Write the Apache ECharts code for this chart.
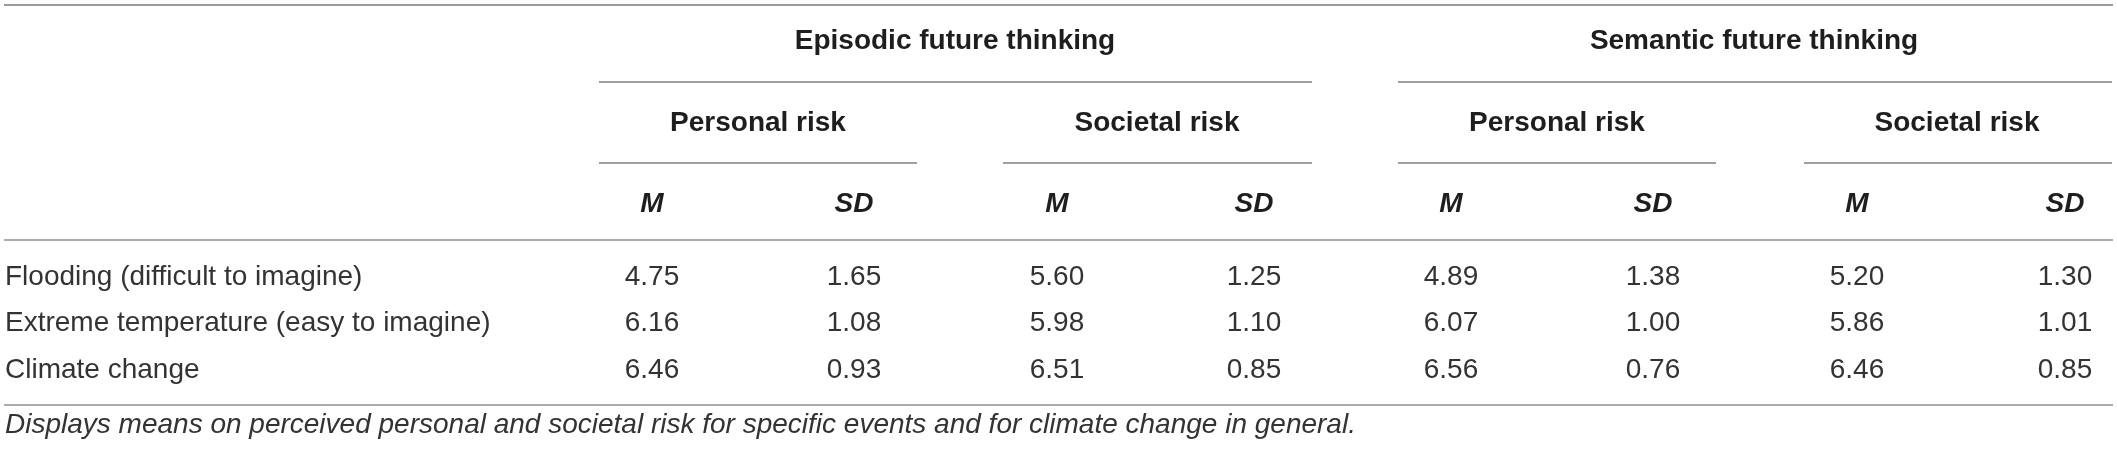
<!DOCTYPE html>
<html>
<head>
    <meta charset="utf-8">
    <title>Perceived risk table</title>
    <script src="https://cdn.jsdelivr.net/npm/echarts@6/dist/echarts.min.js"></script>
    <style>
        html, body { margin: 0; padding: 0; background: #fff; }
    </style>
</head>
<body>
    <div id="main" style="width: 2117px;height:454px;"></div>
    <script type="text/javascript">
        // table content
        var groups = ['Episodic future thinking', 'Semantic future thinking'];
        var risks = ['Personal risk', 'Societal risk', 'Personal risk', 'Societal risk'];
        var stats = ['M', 'SD', 'M', 'SD', 'M', 'SD', 'M', 'SD'];
        var rowLabels = ['Flooding (difficult to imagine)', 'Extreme temperature (easy to imagine)', 'Climate change'];

        var episodicPersonalM = [4.75, 6.16, 6.46];
        var episodicPersonalSD = [1.65, 1.08, 0.93];
        var episodicSocietalM = [5.60, 5.98, 6.51];
        var episodicSocietalSD = [1.25, 1.10, 0.85];
        var semanticPersonalM = [4.89, 6.07, 6.56];
        var semanticPersonalSD = [1.38, 1.00, 0.76];
        var semanticSocietalM = [5.20, 5.86, 6.46];
        var semanticSocietalSD = [1.30, 1.01, 0.85];

        var note = 'Displays means on perceived personal and societal risk for specific events and for climate change in general.';

        // layout (axis units = pixels of the picture)
        var W = 2117, H = 454;
        var colX = [652, 854, 1057, 1254, 1451, 1653, 1857, 2065];
        var groupX = [955, 1754];
        var riskX = [758, 1157, 1557, 1957];
        var rowY = [277, 323, 370];
        var groupY = 41, riskY = 123, statY = 204, noteY = 425, labelX = 5;

        // rules: [x1, x2, y, kind]
        var rules = [
            [4, 2113, 5, 0],
            [599, 1312, 82, 1], [1398, 2112, 82, 1],
            [599, 917, 163, 1], [1003, 1312, 163, 1], [1398, 1716, 163, 1], [1804, 2112, 163, 1],
            [4, 2113, 240, 2],
            [4, 2113, 405, 2]
        ];
        var ruleStyle = [
            { stroke: '#9a9a9a', lineWidth: 2 },
            { stroke: '#7f7f7f', lineWidth: 1.5 },
            { stroke: '#ababab', lineWidth: 2 }
        ];

        var FONT = '"Liberation Sans", Arial, Helvetica, sans-serif';
        var columns = [episodicPersonalM, episodicPersonalSD, episodicSocietalM, episodicSocietalSD,
                       semanticPersonalM, semanticPersonalSD, semanticSocietalM, semanticSocietalSD];

        var cells = [];
        groups.forEach(function (g, i) {
            cells.push({ x: groupX[i], y: groupY, text: g, weight: 'bold', style: 'normal', align: 'center', color: '#1e1e1e' });
        });
        risks.forEach(function (r, i) {
            cells.push({ x: riskX[i], y: riskY, text: r, weight: 'bold', style: 'normal', align: 'center', color: '#1e1e1e' });
        });
        stats.forEach(function (s, i) {
            cells.push({ x: colX[i], y: statY, text: s, weight: 'bold', style: 'italic', align: 'center', color: '#1e1e1e' });
        });
        rowLabels.forEach(function (l, r) {
            cells.push({ x: labelX, y: rowY[r], text: l, weight: 'normal', style: 'normal', align: 'left', color: '#333' });
        });
        columns.forEach(function (col, c) {
            col.forEach(function (v, r) {
                cells.push({ x: colX[c], y: rowY[r], text: v.toFixed(2), weight: 'normal', style: 'normal', align: 'center', color: '#333' });
            });
        });
        cells.push({ x: labelX, y: noteY, text: note, weight: 'normal', style: 'italic', align: 'left', color: '#333' });

        var myChart = echarts.init(document.getElementById('main'));

        var option = {
            animation: false,
            backgroundColor: '#fff',
            grid: { left: 0, right: 0, top: 0, bottom: 0 },
            xAxis: { type: 'value', min: 0, max: W, show: false },
            yAxis: { type: 'value', min: 0, max: H, inverse: true, show: false },
            series: [
                {
                    type: 'custom',
                    clip: false,
                    data: rules,
                    renderItem: function (params, api) {
                        var p1 = api.coord([api.value(0), api.value(2)]);
                        var p2 = api.coord([api.value(1), api.value(2)]);
                        var st = ruleStyle[api.value(3)];
                        return {
                            type: 'line',
                            shape: { x1: p1[0], y1: p1[1], x2: p2[0], y2: p2[1] },
                            style: { stroke: st.stroke, lineWidth: st.lineWidth }
                        };
                    }
                },
                {
                    type: 'custom',
                    clip: false,
                    data: cells.map(function (c) { return [c.x, c.y]; }),
                    renderItem: function (params, api) {
                        var c = cells[params.dataIndex];
                        var p = api.coord([api.value(0), api.value(1)]);
                        return {
                            type: 'text',
                            style: {
                                x: p[0], y: p[1],
                                text: c.text,
                                fill: c.color,
                                fontFamily: FONT,
                                fontSize: 28,
                                fontWeight: c.weight,
                                fontStyle: c.style,
                                align: c.align,
                                verticalAlign: 'middle'
                            }
                        };
                    }
                }
            ]
        };
        myChart.setOption(option);
    </script>
</body>
</html>
